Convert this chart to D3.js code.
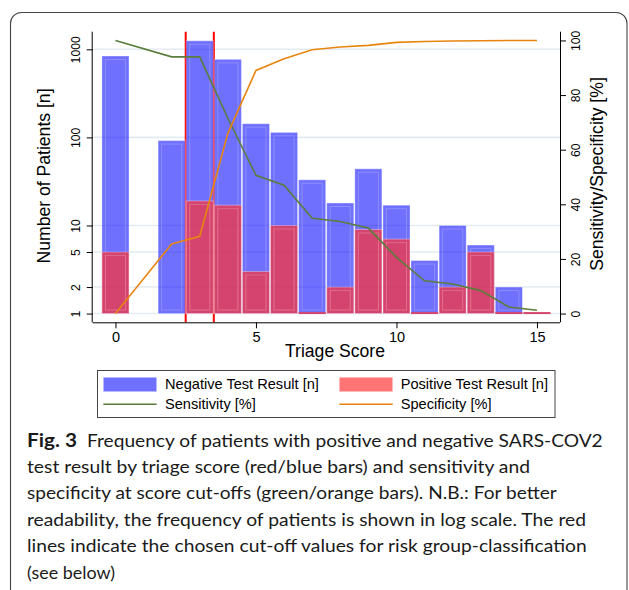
<!DOCTYPE html>
<html><head><meta charset="utf-8">
<script src="https://cdn.jsdelivr.net/npm/d3@7/dist/d3.min.js"></script>
<style>
body{margin:0;background:#fff}
svg{display:block}
text{font-family:"Liberation Sans",Arial,sans-serif;fill:#000}
text.cap{font-family:Lato,"Open Sans",sans-serif;fill:#1a1a1a}
</style>
</head><body>
<svg id="c" width="629" height="590"></svg>
<script>
// ---- data ----
const scores      = [0,1,2,3,4,5,6,7,8,9,10,11,12,13,14,15];
const negative    = [840,0,92,1250,770,143,114,33,18,44,17,4,10,6,2,0];
const positive    = [5,0,0,19,17,3,10,1,2,9,7,1,2,5,1,1];
const lineScores  = [0,2,3,4,5,6,7,8,9,10,11,12,13,14,15];
const sensitivity = [100,94.0,94.0,71.5,50.6,47.0,34.9,33.7,31.3,20.6,12.0,10.8,8.4,2.4,1.2];
const specificity = [0,25.5,28.3,66.0,89.0,93.3,96.6,97.6,98.2,99.3,99.6,99.8,99.9,100,100];
const leftTicks   = [1,2,5,10,100,1000];
const rightTicks  = [0,20,40,60,80,100];
const xTicks      = [0,5,10,15];
const cutoffs     = [2.5,3.5];
const legendItems = ["Negative Test Result [n]","Positive Test Result [n]","Sensitivity [%]","Specificity [%]"];
const captionBold = "Fig. 3";
const captionLines = [
 "Frequency of patients with positive and negative SARS-COV2",
 "test result by triage score (red/blue bars) and sensitivity and",
 "specificity at score cut-offs (green/orange bars). N.B.: For better",
 "readability, the frequency of patients is shown in log scale. The red",
 "lines indicate the chosen cut-off values for risk group-classification",
 "(see below)"
];

// ---- layout ----
const svg = d3.select("#c");
const L = 92.7, R = 560, T = 31.7, B = 322.3;
const x  = d3.scaleLinear().domain([-0.81, 15.82]).range([L, R]);
const yL = d3.scaleLog().domain([0.796, 1585]).range([B, T]);
const yR = d3.scaleLinear().domain([-3.2, 103.2]).range([B, T]);

const BLUE = "rgba(0,0,255,0.56)", RED = "rgba(255,50,50,0.7)";
const GREEN = "#5a7d3c", ORANGE = "#e8850f";

// card
svg.append("rect").attr("x",10.5).attr("y",12.5).attr("width",616.5).attr("height",590)
  .attr("rx",11).attr("fill","#fff").attr("stroke","#444").attr("stroke-width",1.1);

// gridlines
svg.append("g").selectAll("line").data(leftTicks).join("line")
  .attr("x1",L).attr("x2",R).attr("y1",d=>yL(d)).attr("y2",d=>yL(d))
  .attr("stroke","#e4ebf0").attr("stroke-width",1.6);

// cut-off lines
svg.append("g").selectAll("line").data(cutoffs).join("line")
  .attr("x1",d=>x(d)).attr("x2",d=>x(d)).attr("y1",T).attr("y2",B)
  .attr("stroke","#ff0000").attr("stroke-width",2);

// bars
function drawBars(vals, fill, lineCol){
  const g = svg.append("g");
  scores.forEach((s,i)=>{
    const v = vals[i];
    if(!v || v < 1) return;
    const x0 = x(s-0.5)+0.5, x1 = x(s+0.5)-0.5;
    const y0 = yL(1), y1 = yL(v);
    if (y0 - y1 < 1) {
      g.append("line").attr("x1",x0).attr("x2",x1).attr("y1",y0-0.5).attr("y2",y0-0.5)
        .attr("stroke",lineCol).attr("stroke-width",2);
      return;
    }
    g.append("rect").attr("x",x0).attr("y",y1).attr("width",x1-x0).attr("height",y0-y1)
      .attr("fill",fill).attr("stroke","rgba(255,255,255,0.35)").attr("stroke-width",1);
    if (y0 - y1 > 9) {
      g.append("rect").attr("x",x0+3.5).attr("y",y1+3.5).attr("width",x1-x0-7).attr("height",y0-y1-7)
        .attr("fill","none").attr("stroke","rgba(255,255,255,0.2)").attr("stroke-width",1);
    }
  });
}
drawBars(negative, BLUE, "#6e6efa");
drawBars(positive, RED, "#d4466c");

// lines
const lineGen = () => d3.line().x(d=>x(d[0])).y(d=>yR(d[1]));
svg.append("path").datum(lineScores.map((s,i)=>[s,sensitivity[i]]))
  .attr("d", lineGen()).attr("fill","none").attr("stroke",GREEN).attr("stroke-width",1.6);
svg.append("path").datum(lineScores.map((s,i)=>[s,specificity[i]]))
  .attr("d", lineGen()).attr("fill","none").attr("stroke",ORANGE).attr("stroke-width",1.6);

// axes
const ax = svg.append("g").attr("transform",`translate(0,${B})`)
  .call(d3.axisBottom(x).tickValues(xTicks).tickSize(6).tickSizeOuter(0).tickFormat(d3.format("d")));
ax.selectAll("text").attr("font-size",14.5);
ax.select(".domain").attr("d",`M${L},0.5H${R}`);

const ayl = svg.append("g").attr("transform",`translate(${L},0)`)
  .call(d3.axisLeft(yL).tickValues(leftTicks).tickSize(6).tickSizeOuter(0).tickFormat(d3.format("d")));
ayl.select(".domain").attr("d",`M-0.5,${T}V${B}`);
ayl.selectAll(".tick text").attr("transform","rotate(-90)").attr("x",0).attr("y",-12.7).attr("dy",0)
  .attr("text-anchor","middle").attr("font-size",12.2);

const ayr = svg.append("g").attr("transform",`translate(${R},0)`)
  .call(d3.axisRight(yR).tickValues(rightTicks).tickSize(6).tickSizeOuter(0).tickFormat(d3.format("d")));
ayr.select(".domain").attr("d",`M0.5,${T}V${B}`);
ayr.selectAll(".tick text").attr("transform","rotate(-90)").attr("x",0).attr("y",20).attr("dy",0)
  .attr("text-anchor","middle").attr("font-size",12.2);

// axis titles
svg.append("text").attr("x",335).attr("y",356.5).attr("text-anchor","middle")
  .attr("font-size",17.6).text("Triage Score");
svg.append("text").attr("transform","translate(49.5,176) rotate(-90)").attr("text-anchor","middle")
  .attr("font-size",17.6).text("Number of Patients [n]");
svg.append("text").attr("transform","translate(603,174) rotate(-90)").attr("text-anchor","middle")
  .attr("font-size",17.6).text("Sensitivity/Specificity [%]");

// legend
const lg = svg.append("g");
lg.append("rect").attr("x",97.5).attr("y",370.5).attr("width",457.5).attr("height",47)
  .attr("fill","#fff").attr("stroke","#444").attr("stroke-width",1);
const lcol = [103.3, 339.3], tcol = [165, 400.7];
lg.append("rect").attr("x",lcol[0]).attr("y",377.3).attr("width",53.4).attr("height",14.4)
  .attr("fill",BLUE).attr("stroke","rgba(255,255,255,0.35)");
lg.append("rect").attr("x",lcol[1]).attr("y",377.3).attr("width",53.4).attr("height",14.4)
  .attr("fill","rgba(255,50,50,0.68)").attr("stroke","rgba(255,255,255,0.35)");
lg.append("line").attr("x1",lcol[0]).attr("x2",lcol[0]+53.4).attr("y1",404.3).attr("y2",404.3)
  .attr("stroke",GREEN).attr("stroke-width",1.6);
lg.append("line").attr("x1",lcol[1]).attr("x2",lcol[1]+53.4).attr("y1",404.3).attr("y2",404.3)
  .attr("stroke",ORANGE).attr("stroke-width",1.6);
legendItems.forEach((t,i)=>{
  lg.append("text").attr("x",tcol[i%2]).attr("y",i<2?389.3:408.8).attr("font-size",14.6).text(t);
});

// caption
const cap = svg.append("g");
cap.append("text").attr("class","cap").attr("x",27).attr("y",446.5).attr("font-weight",700)
  .attr("font-size",18).attr("textLength",50).attr("lengthAdjust","spacingAndGlyphs").text(captionBold);
const capX = [87,27,27,27,27,27];
const capEnd = [602.7,530,556.7,586,586.7,115];
const capY = [446.5,473,499.4,525.8,552.2,578.6];
captionLines.forEach((t,i)=>{
  cap.append("text").attr("class","cap").attr("x",capX[i]).attr("y",capY[i])
    .attr("font-size",18).attr("textLength",capEnd[i]-capX[i]).attr("lengthAdjust","spacingAndGlyphs")
    .text(t);
});
</script>
</body></html>
